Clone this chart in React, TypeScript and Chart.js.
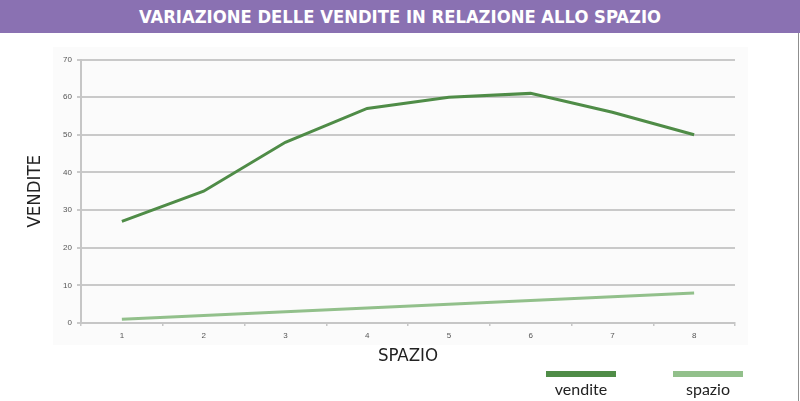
import React, { useEffect, useRef } from "react";
import { Chart, registerables } from "chart.js";

Chart.register(...registerables);

const title = "VARIAZIONE DELLE VENDITE IN RELAZIONE ALLO SPAZIO";
const categories = ["1", "2", "3", "4", "5", "6", "7", "8"];
const vendite = [27, 35, 48, 57, 60, 61, 56, 50];
const spazio = [1, 2, 3, 4, 5, 6, 7, 8];
const seriesNames = ["vendite", "spazio"];
const seriesColors = ["#4f8c47", "#92c08b"];
const yMin = 0;
const yMax = 70;
const yStep = 10;
const xTitle = "SPAZIO";
const yTitle = "VENDITE";

const narrow = "'DejaVu Sans Condensed', 'Liberation Sans', sans-serif";

export default function App() {
  const ref = useRef<HTMLCanvasElement | null>(null);

  useEffect(() => {
    if (!ref.current) return;
    const chart = new Chart(ref.current, {
      type: "line",
      data: {
        labels: categories,
        datasets: [
          {
            label: seriesNames[0],
            data: vendite,
            borderColor: seriesColors[0],
            backgroundColor: seriesColors[0],
            borderWidth: 3,
            pointRadius: 0,
            tension: 0,
          },
          {
            label: seriesNames[1],
            data: spazio,
            borderColor: seriesColors[1],
            backgroundColor: seriesColors[1],
            borderWidth: 3,
            pointRadius: 0,
            tension: 0,
          },
        ],
      },
      options: {
        responsive: false,
        animation: false,
        layout: { padding: { top: 26.5, right: 65, left: 0, bottom: 0 } },
        plugins: {
          legend: { display: false },
          tooltip: { enabled: false },
        },
        scales: {
          x: {
            offset: true,
            grid: {
              offset: true,
              drawOnChartArea: false,
              drawTicks: true,
              tickLength: 3,
              color: "#c6c6c6",
              lineWidth: 1.5,
            },
            border: { display: true, color: "#c6c6c6", width: 2 },
            ticks: {
              padding: 5,
              color: "#555",
              font: { family: "'Liberation Sans', sans-serif", size: 8 },
            },
            title: {
              display: true,
              text: xTitle,
              color: "#222",
              font: { family: narrow, size: 18.5 },
              padding: { top: 4, bottom: 34 },
            },
            afterFit: (scale: any) => {
              scale.height = 78;
            },
          },
          y: {
            min: yMin,
            max: yMax,
            ticks: {
              stepSize: yStep,
              padding: 5,
              color: "#555",
              font: { family: "'Liberation Sans', sans-serif", size: 8 },
            },
            grid: {
              color: "#c9c9c9",
              lineWidth: 2,
              tickLength: 4,
            },
            border: { display: true, color: "#c6c6c6", width: 2 },
            title: {
              display: true,
              text: yTitle,
              color: "#222",
              font: { family: narrow, size: 18.5 },
              padding: { top: 24.5, bottom: 0 },
            },
            afterFit: (scale: any) => {
              scale.width = 81;
            },
          },
        },
      },
    });
    return () => chart.destroy();
  }, []);

  const legendX = [546, 673];

  return (
    <div
      style={{
        position: "absolute",
        left: 0,
        top: 0,
        width: 800,
        height: 401,
        background: "#ffffff",
        overflow: "hidden",
      }}
    >
      <div
        style={{
          position: "absolute",
          left: 0,
          top: 0,
          width: 800,
          height: 33,
          background: "#8a71b2",
          color: "#ffffff",
          fontFamily: narrow,
          fontWeight: "bold",
          fontSize: 18.3,
          lineHeight: "33px",
          textAlign: "center",
        }}
      >
        {title}
      </div>
      <div
        style={{
          position: "absolute",
          left: 53,
          top: 47,
          width: 695,
          height: 298,
          background: "#fbfbfb",
        }}
      />
      <div
        style={{
          position: "absolute",
          left: 798,
          top: 33,
          width: 1,
          height: 368,
          background: "#8f8f8f",
        }}
      />
      <canvas
        ref={ref}
        width={800}
        height={368}
        style={{ position: "absolute", left: 0, top: 33, width: 800, height: 368 }}
      />
      {seriesNames.map((name, i) => (
        <div
          key={name}
          style={{
            position: "absolute",
            left: legendX[i],
            top: 371,
            width: 70,
            textAlign: "center",
            fontFamily: "Lato, sans-serif",
            fontSize: 16,
            color: "#222",
          }}
        >
          <div style={{ height: 6, background: seriesColors[i] }} />
          <div style={{ lineHeight: "22px", marginTop: 1 }}>{name}</div>
        </div>
      ))}
    </div>
  );
}
